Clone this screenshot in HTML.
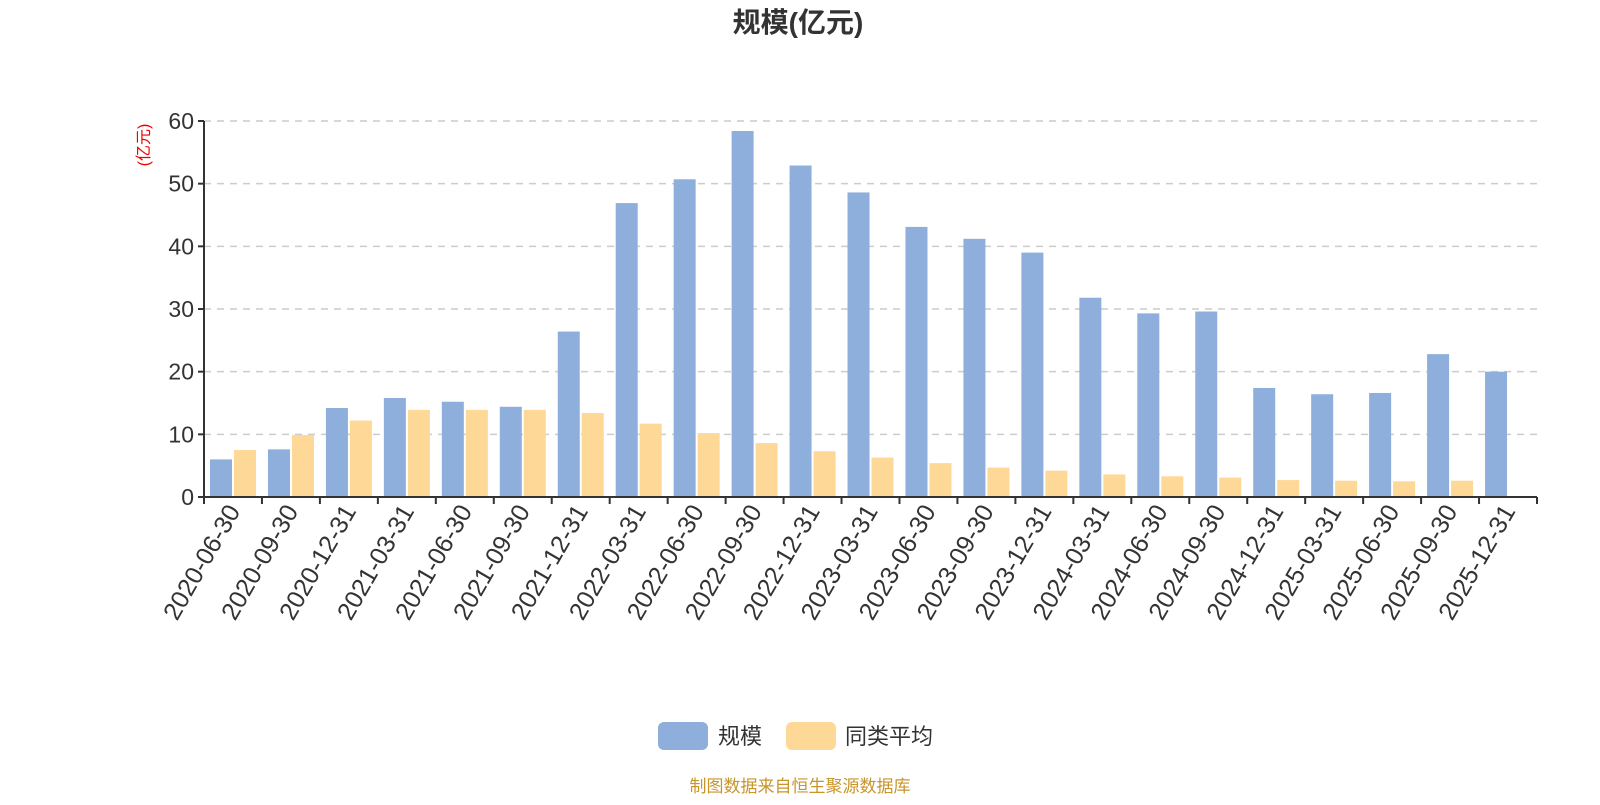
<!DOCTYPE html>
<html><head><meta charset="utf-8"><style>
body{margin:0;background:#fff;}
svg text{font-family:"Liberation Sans","Noto Sans CJK SC",sans-serif;}
</style></head><body>
<svg id="chart" width="1600" height="800" viewBox="0 0 1600 800">
<text x="798" y="32" text-anchor="middle" font-size="28" font-weight="bold" fill="#333">规模(亿元)</text>
<text transform="translate(149,145) rotate(-90)" text-anchor="middle" font-size="16" fill="#e00">(亿元)</text>
<g id="grid"></g><g id="bars"></g><g id="axes"></g>
<g>
<rect x="658" y="722" width="50" height="28" rx="6" fill="#8eaedb"/>
<text x="718" y="744" font-size="22" fill="#333">规模</text>
<rect x="786" y="722" width="50" height="28" rx="6" fill="#fed896"/>
<text x="845" y="744" font-size="22" fill="#333">同类平均</text>
</g>
<text x="800" y="792" text-anchor="middle" font-size="17" fill="#c8952a">制图数据来自恒生聚源数据库</text>
</svg>
<script>
const categories=["2020-06-30","2020-09-30","2020-12-31","2021-03-31","2021-06-30","2021-09-30","2021-12-31","2022-03-31","2022-06-30","2022-09-30","2022-12-31","2023-03-31","2023-06-30","2023-09-30","2023-12-31","2024-03-31","2024-06-30","2024-09-30","2024-12-31","2025-03-31","2025-06-30","2025-09-30","2025-12-31"];
const scaleValues=[6.0,7.6,14.2,15.8,15.2,14.4,26.4,46.9,50.7,58.4,52.9,48.6,43.1,41.2,39.0,31.8,29.3,29.6,17.4,16.4,16.6,22.8,20.0];
const avgValues=[7.5,9.9,12.2,13.9,13.9,13.9,13.4,11.7,10.2,8.6,7.3,6.3,5.4,4.7,4.2,3.6,3.3,3.1,2.7,2.6,2.5,2.6,null];
const yTicks=[0,10,20,30,40,50,60];
const NS="http://www.w3.org/2000/svg";
const x0=204,x1=1537,yb=497,yt=121,ymax=60;
const band=(x1-x0)/categories.length;
const xs=i=>x0+i*band;
const ys=v=>yb-(v/ymax)*(yb-yt);
function mk(tag,attrs,parent){const e=document.createElementNS(NS,tag);for(const k in attrs)e.setAttribute(k,attrs[k]);parent.appendChild(e);return e;}
const grid=document.getElementById('grid'),bars=document.getElementById('bars'),axes=document.getElementById('axes');
yTicks.forEach(t=>{
  if(t>0){const l=mk('line',{x1:x0,x2:x1,y1:ys(t),y2:ys(t),stroke:'#ccc','stroke-width':1.5,'stroke-dasharray':'7,6'},grid);
  
  }
  const tk=mk('line',{x1:x0-6,x2:x0,y1:ys(t),y2:ys(t),stroke:'#333','stroke-width':2},axes);
  
  
  const tx=mk('text',{x:x0-10,y:ys(t)+8,'text-anchor':'end','font-size':23,fill:'#333'},axes);
  tx.textContent=t;
  
  
});
const bw=22;
categories.forEach((c,i)=>{
  const bx=xs(i)+6;
  const b=mk('rect',{x:bx,y:ys(scaleValues[i]),width:bw,height:yb-ys(scaleValues[i]),fill:'#8eaedb'},bars);
  
  
  if(avgValues[i]!=null){
    const a=mk('rect',{x:bx+bw+2,y:ys(avgValues[i]),width:bw,height:yb-ys(avgValues[i]),fill:'#fed896'},bars);
    
    
  }
  const cx=xs(i)+band/2;
  const lb=mk('text',{transform:`translate(${cx+8},${yb+14}) rotate(-60)`,'text-anchor':'end','font-size':25,fill:'#333'},axes);
  lb.textContent=c;
  
  
});
for(let i=0;i<=categories.length;i++){
  const t=mk('line',{x1:xs(i),x2:xs(i),y1:yb,y2:yb+7,stroke:'#333','stroke-width':2},axes);
  
  
}
const xa=mk('line',{x1:x0,x2:x1,y1:yb,y2:yb,stroke:'#333','stroke-width':2},axes);


const ya=mk('line',{x1:x0,x2:x0,y1:yt,y2:yb,stroke:'#333','stroke-width':2},axes);


</script>
</body></html>
